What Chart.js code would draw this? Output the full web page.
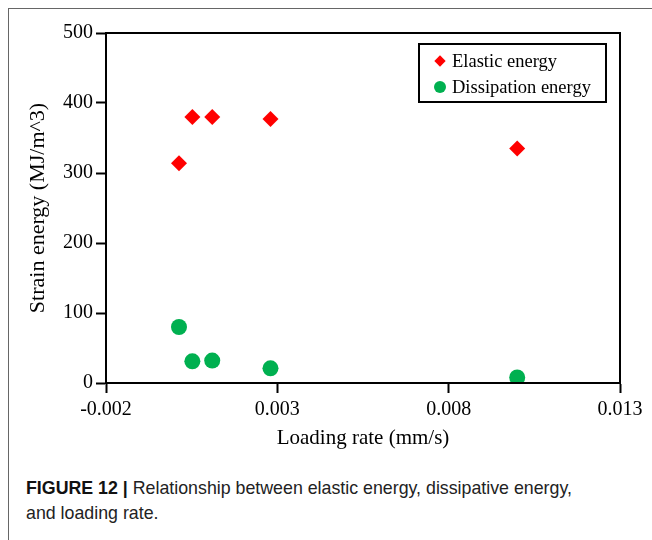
<!DOCTYPE html>
<html>
<head>
<meta charset="utf-8">
<script src="https://cdn.jsdelivr.net/npm/chart.js@4.4.1/dist/chart.umd.min.js"></script>
<style>
  html, body { margin: 0; padding: 0; background: #fff; }
  body { width: 652px; height: 540px; position: relative; overflow: hidden; }
  #frame { position: absolute; left: 8px; top: 8px; width: 660px; height: 560px;
           border-top: 1.5px solid #666; border-left: 1.5px solid #666; }
  #c1 { position: absolute; left: 0; top: 0; }
  #legend { position: absolute; left: 418px; top: 43px; width: 185px; height: 56px;
            border: 2px solid #000; font: 18.5px "Liberation Serif", "Times New Roman", serif; color: #000; }
  #legend .row { position: absolute; left: 0; height: 20px; line-height: 20px; white-space: nowrap; }
  #legend .mk { position: absolute; }
  #legend .txt { position: absolute; left: 32px; top: 0; }
  #caption { position: absolute; left: 26px; top: 476px; font: 17.8px "Liberation Sans", Arial, sans-serif;
             line-height: 25px; color: #222; white-space: nowrap; }
  #caption b { color: #111; }
</style>
</head>
<body>
<div id="frame"></div>
<canvas id="c1" width="652" height="451"></canvas>
<div id="legend"></div>
<div id="caption"><b>FIGURE 12 |</b> Relationship between elastic energy, dissipative energy,<br>and loading rate.</div>
<script>
// ── data ─────────────────────────────────────────────────────────────
const loadingRate  = [0.00013, 0.00052, 0.0011, 0.0028, 0.01];
const elasticE     = [314, 380, 380, 377, 335];
const dissipationE = [80, 31, 32, 21, 8];
const xTicks = [-0.002, 0.003, 0.008, 0.013];
const yTicks = [0, 100, 200, 300, 400, 500];

const C = { red: '#ff0000', green: '#00b050' };
const serif = '"Liberation Serif", "Times New Roman", serif';

const series = [
  { label: 'Elastic energy',     data: elasticE,     color: C.red,   style: 'rectRot', r: 8 },
  { label: 'Dissipation energy', data: dissipationE, color: C.green, style: 'circle',  r: 8 }
];

// box round the plot area
const boxPlugin = {
  id: 'plotBox',
  afterDraw(chart) {
    const { ctx, chartArea: a } = chart;
    ctx.save();
    ctx.strokeStyle = '#000'; ctx.lineWidth = 2;
    ctx.strokeRect(a.left, a.top, a.right - a.left, a.bottom - a.top);
    ctx.restore();
  }
};

const tickGrid = { display: true, drawOnChartArea: false, drawTicks: true, tickLength: 10, tickColor: '#000', tickWidth: 2 };
const axisBorder = { display: true, color: '#000', width: 2 };

new Chart(document.getElementById('c1'), {
  type: 'scatter',
  data: {
    datasets: series.map(s => ({
      label: s.label,
      data: s.data.map((v, i) => ({ x: loadingRate[i], y: v })),
      pointStyle: s.style, pointRadius: s.r, pointHoverRadius: s.r,
      backgroundColor: s.color, borderColor: s.color, borderWidth: 0
    }))
  },
  options: {
    responsive: false, animation: false,
    layout: { padding: { left: 0, right: 32, top: 33, bottom: 0 } },
    plugins: { legend: { display: false }, tooltip: { enabled: false } },
    scales: {
      x: {
        type: 'linear', min: xTicks[0], max: xTicks[xTicks.length - 1],
        afterBuildTicks: ax => { ax.ticks = xTicks.map(v => ({ value: v })); },
        afterFit: ax => { ax.height = 68; },
        ticks: { color: '#000', font: { family: serif, size: 20 }, padding: 5, maxRotation: 0,
                 callback: v => v.toFixed(3) },
        grid: tickGrid, border: axisBorder,
        title: { display: true, text: 'Loading rate (mm/s)', color: '#000',
                 font: { family: serif, size: 21, lineHeight: 1.2 }, padding: { top: 0, bottom: 0 } }
      },
      y: {
        min: yTicks[0], max: yTicks[yTicks.length - 1],
        afterBuildTicks: ax => { ax.ticks = yTicks.map(v => ({ value: v })); },
        afterFit: ax => { ax.width = 106; },
        ticks: { color: '#000', font: { family: serif, size: 20 }, padding: 3 },
        grid: tickGrid, border: axisBorder,
        title: { display: true, text: 'Strain energy (MJ/m^3)', color: '#000',
                 font: { family: serif, size: 22, lineHeight: 1.2 }, padding: { top: 25, bottom: 0 } }
      }
    }
  },
  plugins: [boxPlugin]
});

// legend box (html)
const lg = document.getElementById('legend');
series.forEach((s, i) => {
  const row = document.createElement('div');
  row.className = 'row';
  row.style.top = (6 + i * 26) + 'px';
  const mk = document.createElement('div');
  mk.className = 'mk';
  mk.style.background = s.color;
  if (s.style === 'circle') {
    Object.assign(mk.style, { width: '12px', height: '12px', left: '14px', top: '4px', borderRadius: '50%' });
  } else {
    Object.assign(mk.style, { width: '8px', height: '8px', left: '16px', top: '6px', transform: 'rotate(45deg)' });
  }
  const tx = document.createElement('span');
  tx.className = 'txt';
  tx.textContent = s.label;
  row.appendChild(mk); row.appendChild(tx);
  lg.appendChild(row);
});
</script>
</body>
</html>
